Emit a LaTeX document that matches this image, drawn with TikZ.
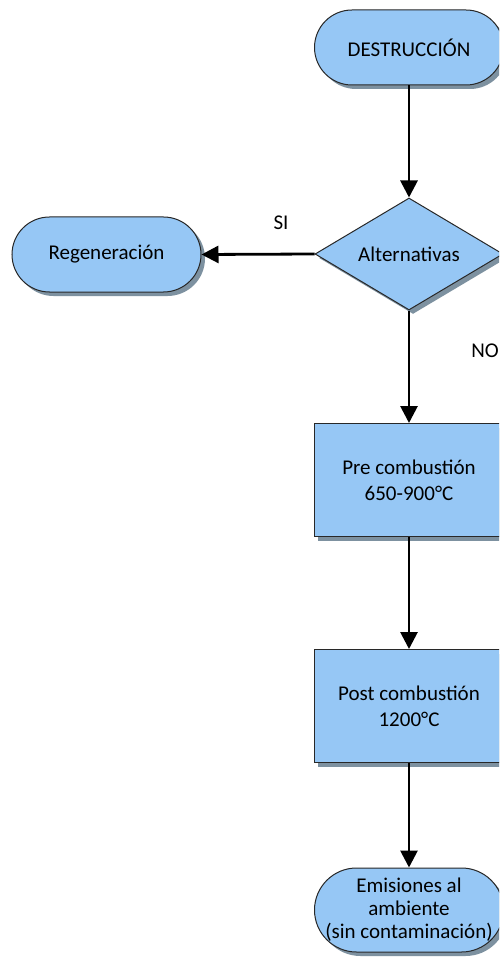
\documentclass[tikz,border=0pt]{standalone}
\usepackage{fontspec}
\setmainfont{Carlito}
\usetikzlibrary{shapes.geometric,shadows,arrows.meta}
\definecolor{boxfill}{RGB}{150,199,245}
\definecolor{boxline}{RGB}{40,40,40}
\definecolor{shadowc}{RGB}{125,145,160}
\tikzset{
  every node/.style={font=\fontsize{21}{26}\selectfont},
  shapebase/.style={draw=boxline, line width=1pt, fill=boxfill, inner sep=0pt, align=center,
    drop shadow={shadow xshift=4pt, shadow yshift=-4pt, fill=shadowc, opacity=1}},
  terminal/.style={shapebase, rectangle, minimum width=189pt, minimum height=#1, rounded corners=#1/2},
  terminal/.default=75pt,
  process/.style={shapebase, rectangle, minimum width=190pt, minimum height=113pt},
  decision/.style={shapebase, diamond, aspect=1.68, minimum width=188pt, minimum height=112pt},
  flow/.style={line width=2.8pt, -{Triangle[length=17pt,width=17pt]}},
  lbl/.style={inner sep=0pt}
}
\begin{document}
\begin{tikzpicture}[x=1pt, y=-1pt]
  \useasboundingbox (0,0) rectangle (499,957);
  \fill[white] (0,0) rectangle (499,957);
  \clip (0,0) rectangle (499,957);

  % flow chart nodes
  \node[terminal] (dest) at (409,47.5) {DESTRUCCIÓN};
  \node[decision] (alt) at (409,254) {Alternativas};
  \node[terminal] (regen) at (106.5,254.5) {Regeneración};
  \node[process] (pre) at (409,480) {Pre combustión\\650-900°C};
  \node[process] (post) at (409,706) {Post combustión\\1200°C};
  \node[terminal=84pt, font=\fontsize{21}{23}\selectfont] (emis) at (409,910)
    {Emisiones al\\ambiente\\(sin contaminación)};

  % connectors
  \draw[flow] (dest.south) -- (alt.north);
  \draw[flow] (alt.west) -- (regen.east);
  \draw[flow] (alt.south) -- (pre.north);
  \draw[flow] (pre.south) -- (post.north);
  \draw[flow] (post.south) -- (emis.north);

  % branch labels
  \node[lbl] (si) at (281,223) {SI};
  \node[lbl] (no) at (485,351) {NO};
\end{tikzpicture}
\end{document}
